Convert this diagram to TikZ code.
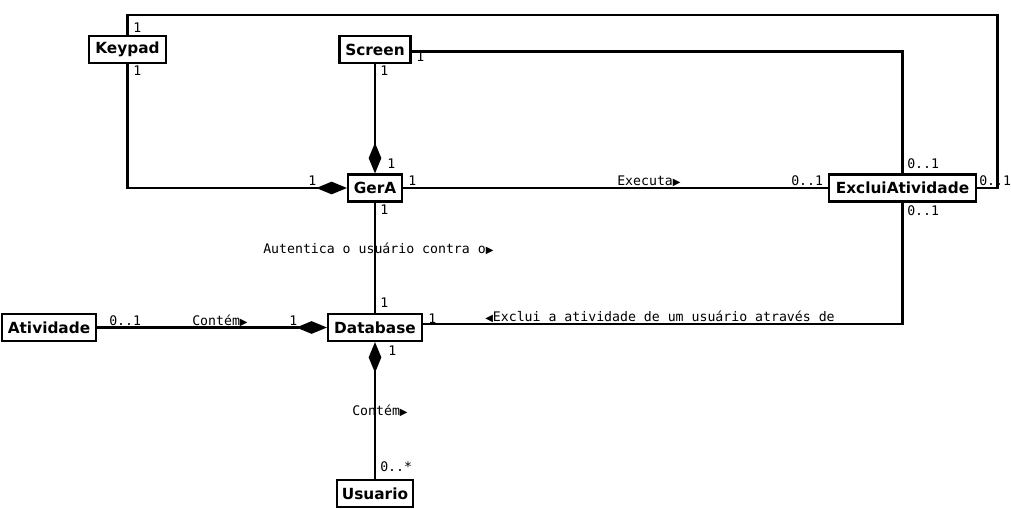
\documentclass[tikz,border=0pt]{standalone}
\usepackage{fontspec}
\newfontfamily\boxf{DejaVu Sans}
\newfontfamily\monof{DejaVu Sans Mono}
\newfontfamily\symf{DejaVu Sans}
\usetikzlibrary{arrows.meta}
\newcommand\rtri{{\symf\fontsize{7.5}{8}\selectfont ▶}}
\newcommand\ltri{{\symf\fontsize{7.5}{8}\selectfont ◀}}
\begin{document}
\begin{tikzpicture}[x=0.75pt,y=-0.75pt,
 cls/.style={draw,line width=1.6pt,fill=white,inner sep=0pt,minimum height=20.25pt,font=\boxf\bfseries\fontsize{11.5}{13}\selectfont},
 lbl/.style={anchor=base west,inner sep=0pt,font=\monof\fontsize{9.9}{10}\selectfont},
 conn/.style={line width=1.6pt},
 comp/.style={conn,-{Diamond[length=23pt,width=9.5pt]}},
 rcomp/.style={conn,{Diamond[length=23pt,width=9.5pt]}-},
]
\useasboundingbox[fill=white] (0,0) rectangle (1011,508);
\node[cls,minimum width=57.75pt] (Keypad) at (127.5,49.5) {Keypad};
\node[cls,minimum width=53.25pt] (Screen) at (375,49.5) {Screen};
\node[cls,minimum width=40.5pt] (GerA) at (375,188) {GerA};
\node[cls,minimum width=110.25pt] (Exclui) at (902.5,188) {ExcluiAtividade};
\node[cls,minimum width=70.5pt] (Database) at (375,327.5) {Database};
\node[cls,minimum width=70.5pt] (Atividade) at (49,327.5) {Atividade};
\node[cls,minimum width=57pt] (Usuario) at (375,493.5) {Usuario};

\coordinate (kr) at (997.5,15);
\draw[conn] (Keypad.north) |- (kr) |- (Exclui.east);
\draw[comp] (Keypad.south) |- (GerA.west);
\draw[conn] ([yshift=-1.5pt]Screen.east) -| (Exclui.north);
\draw[comp] (Screen.south) -- (GerA.north);
\draw[conn] (GerA.east) -- (Exclui.west);
\draw[conn] (GerA.south) -- (Database.north);
\draw[conn] (Exclui.south) |- ([yshift=2.5pt]Database.east);
\draw[comp] (Atividade.east) -- (Database.west);
\draw[rcomp] (Database.south) -- (Usuario.north);

\node[lbl] (l1) at (133,32) {1};
\node[lbl] (l2) at (133,75) {1};
\node[lbl] (l3) at (416,61) {1};
\node[lbl] (l4) at (380,75) {1};
\node[lbl] (l5) at (387,168) {1};
\node[lbl] (l6) at (308,185) {1};
\node[lbl] (l7) at (408,185) {1};
\node[lbl] (l8) at (380,214) {1};
\node[lbl] (l9) at (617,185) {Executa\rtri};
\node[lbl] (l10) at (791,185) {0..1};
\node[lbl] (l11) at (907,168) {0..1};
\node[lbl] (l12) at (979,185) {0..1};
\node[lbl] (l13) at (907,215) {0..1};
\node[lbl] (l14) at (263,253) {Autentica o usuário contra o\rtri};
\node[lbl] (l15) at (380,307) {1};
\node[lbl] (l16) at (109,325) {0..1};
\node[lbl] (l17) at (192,325) {Contém\rtri};
\node[lbl] (l18) at (289,325) {1};
\node[lbl] (l19) at (428,323) {1};
\node[lbl] (l20) at (485,321) {\ltri Exclui a atividade de um usuário através de};
\node[lbl] (l21) at (388,355) {1};
\node[lbl] (l22) at (352,415) {Contém\rtri};
\node[lbl] (l23) at (380,471) {0..*};
\end{tikzpicture}
\end{document}
